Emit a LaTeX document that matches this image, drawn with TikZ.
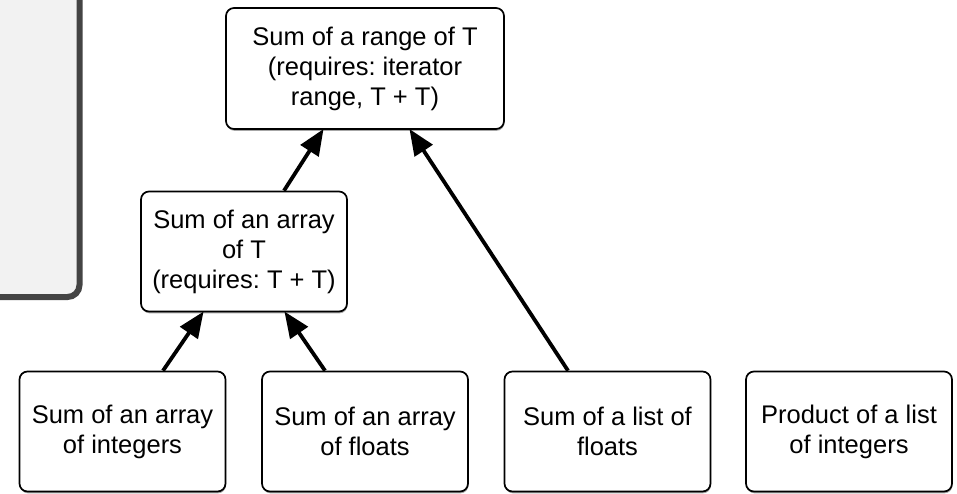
\documentclass[tikz,border=0pt]{standalone}
\usepackage{fontspec}
\setmainfont{Liberation Sans}
\usetikzlibrary{arrows.meta,shadows,calc}
\definecolor{panelfill}{HTML}{F2F2F2}
\definecolor{panelline}{HTML}{444444}
\tikzset{
  card/.style={draw=black, line width=1.7pt, rounded corners=8pt, fill=white,
    minimum width=206pt, minimum height=120pt, align=center, inner sep=0pt,
    font=\fontsize{25.5pt}{30pt}\selectfont\frenchspacing,
    drop shadow={shadow xshift=0.5pt, shadow yshift=-1.8pt, opacity=0.35, fill=black}},
  wide/.style={minimum width=278pt, minimum height=121pt},
  link/.style={line width=3.8pt, -{Triangle[length=26pt,width=21pt]}, shorten >=-1pt}
}
\begin{document}
\begin{tikzpicture}[x=1pt,y=-1pt]
\useasboundingbox (0,0) rectangle (957,493);
\clip (0,0) rectangle (957,493);
% side panel running off the left and top edges
\draw[fill=panelfill, draw=panelline, line width=6pt, rounded corners=12pt]
  (-40,-40) rectangle (79.5,297);
% generic algorithm at the top
\node[card, wide] (range) at (365,68.5) {Sum of a range of T\\(requires: iterator\\range, T + T)};
% array specialisation
\node[card] (arrT) at (244,251.5) {Sum of an array\\of T\\(requires: T + T)};
% concrete uses
\node[card] (arrInt) at (122.5,431.5) {Sum of an array\\of integers};
\node[card] (arrFlt) at (365,431.5) {Sum of an array\\of floats};
\node[card] (lstFlt) at (607.5,431.5) {Sum of a list of\\floats};
\node[card] (lstProd) at (849,431.5) {Product of a list\\of integers};
% connectors
\draw[link] ([xshift=40pt]arrT.north) -- ([xshift=-42pt]range.south);
\draw[link] ([xshift=40.5pt]arrInt.north) -- ([xshift=-41pt]arrT.south);
\draw[link] ([xshift=-40pt]arrFlt.north) -- ([xshift=41pt]arrT.south);
\draw[link] ([xshift=-39.5pt]lstFlt.north) -- ([xshift=45pt]range.south);
\end{tikzpicture}
\end{document}
